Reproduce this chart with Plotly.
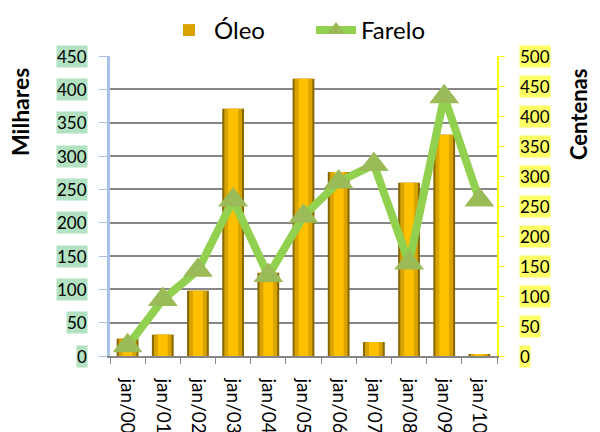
import plotly.graph_objects as go

categories = ["jan/00", "jan/01", "jan/02", "jan/03", "jan/04", "jan/05",
              "jan/06", "jan/07", "jan/08", "jan/09", "jan/10"]
oleo = [26, 32, 98, 371, 125, 416, 276, 21, 260, 332, 2]
farelo = [17, 94, 143, 260, 134, 233, 290, 319, 155, 432, 260]
left_ticks = [0, 50, 100, 150, 200, 250, 300, 350, 400, 450]
right_ticks = [0, 50, 100, 150, 200, 250, 300, 350, 400, 450, 500]

FONT = "Lato"
fig = go.Figure()

# bevelled gold bars: dark outer, medium, bright centre
fig.add_trace(go.Bar(x=categories, y=oleo, width=0.62, marker=dict(color="#8a6a00", line=dict(width=0)),
                     showlegend=False, hoverinfo="skip", yaxis="y"))
fig.add_trace(go.Bar(x=categories, y=oleo, width=0.5, marker=dict(color="#d9a300", line=dict(width=0)),
                     name="Óleo", yaxis="y"))
fig.add_trace(go.Bar(x=categories, y=oleo, width=0.28, marker=dict(color="#ffc000", line=dict(width=0)),
                     showlegend=False, hoverinfo="skip", yaxis="y"))

fig.add_trace(go.Scatter(x=categories, y=farelo, name="Farelo", yaxis="y2", mode="lines+markers",
                         line=dict(color="#92d050", width=8),
                         marker=dict(symbol="triangle-up", size=26, color="#9bbb59")))

annotations = []
for v in left_ticks:
    annotations.append(dict(x=0, xref="paper", y=v, yref="y", text=str(v), showarrow=False,
                            xanchor="right", yanchor="middle", xshift=-22, bgcolor="#b3e2c2", borderpad=0,
                            font=dict(family=FONT, size=17, color="black")))
for v in right_ticks:
    annotations.append(dict(x=1, xref="paper", y=v, yref="y2", text=str(v), showarrow=False,
                            xanchor="left", yanchor="middle", xshift=22, bgcolor="#ffff66", borderpad=0,
                            font=dict(family=FONT, size=17, color="black")))
annotations.append(dict(x=0, xref="paper", xshift=-90, y=(356 - 112) / 300, yref="paper", text="<b>Milhares</b>",
                        xanchor="center", yanchor="middle",
                        textangle=-90, showarrow=False, font=dict(family=FONT, size=23, color="black")))
annotations.append(dict(x=1, xref="paper", xshift=81, y=(356 - 115) / 300, yref="paper", text="<b>Centenas</b>",
                        xanchor="center", yanchor="middle",
                        textangle=-90, showarrow=False, font=dict(family=FONT, size=22, color="black")))

fig.update_layout(
    width=600, height=432,
    margin=dict(l=102, r=111, t=48, b=84, autoexpand=False),
    paper_bgcolor="white", plot_bgcolor="white",
    barmode="overlay",
    legend=dict(orientation="h", xref="container", yref="container", x=156 / 600, xanchor="left",
                y=1 - 0 / 432, yanchor="top", itemwidth=40, entrywidth=92, entrywidthmode="pixels",
                font=dict(family=FONT, size=24, color="black"), bgcolor="rgba(0,0,0,0)"),
    xaxis=dict(type="category", range=[-0.5, 10.5], tickangle=90, tickson="boundaries", ticks="outside",
               ticklen=6, tickcolor="#868686", showline=True, linecolor="#868686", linewidth=1.5,
               automargin=False, tickfont=dict(family=FONT, size=19, color="black"), showgrid=False,
               ticklabelstandoff=17),
    yaxis=dict(range=[0, 450], dtick=50, showgrid=True, gridcolor="#868686", gridwidth=1.5,
               showticklabels=False, ticks="outside", ticklen=8, tickcolor="#a9c1e3", automargin=False,
               showline=True, linecolor="#a9c1e3", linewidth=2.5, zeroline=False),
    yaxis2=dict(range=[0, 500], dtick=50, overlaying="y", side="right", showgrid=False, automargin=False,
                showticklabels=False, ticks="outside", ticklen=6, tickcolor="#ffff00",
                showline=True, linecolor="#ffff00", linewidth=2, zeroline=False),
    annotations=annotations,
)

fig.write_html("out.html")
